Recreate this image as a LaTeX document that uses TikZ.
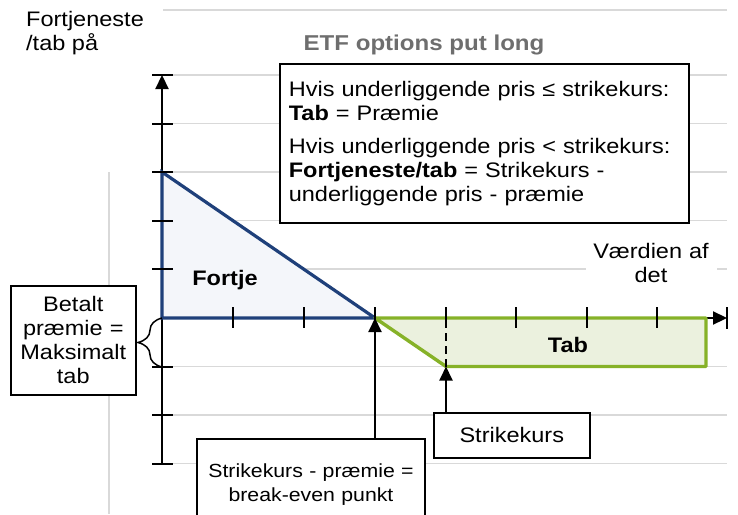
\documentclass[tikz,border=0pt]{standalone}
\usepackage{fontspec}
\setmainfont{Liberation Sans}[FakeStretch=1.12]
\usetikzlibrary{arrows.meta,decorations.pathreplacing}
\definecolor{gridc}{RGB}{217,217,217}
\definecolor{navy}{RGB}{31,64,122}
\definecolor{navyfill}{RGB}{244,246,250}
\definecolor{lgreen}{RGB}{134,178,40}
\definecolor{lgreenfill}{RGB}{235,241,222}
\definecolor{titlegray}{RGB}{110,110,110}
\tikzset{
  gridline/.style={draw=gridc,line width=1.3pt},
  axisline/.style={draw=black,line width=2.2pt},
  tickmark/.style={draw=black,line width=2pt},
  tip/.style={-{Triangle[length=14pt,width=13pt]}},
  txt/.style={font=\fontsize{21}{24}\selectfont,inner sep=0pt},
  boxed/.style={draw=black,line width=1.6pt,fill=white,font=\fontsize{21}{24}\selectfont},
  connector/.style={draw=black,line width=2pt,-{Triangle[length=14pt,width=13pt]}}
}
\begin{document}
\begin{tikzpicture}[x=1pt,y=-1pt]
\useasboundingbox (0,0) rectangle (738,514);
\clip (0,0) rectangle (738,514);
% grid
\foreach \yy in {10,75,123.5,172,220.5,269,366.5,415,463.5}
  \draw[gridline] (163,\yy) -- (727,\yy);
\draw[gridline] (109,172) -- (109,514);
% axes
\coordinate (o) at (162,318);
\coordinate (ytop) at (162,75);
\coordinate (ybot) at (162,463.5);
\coordinate (xend) at (727,318);
\draw[axisline,tip] (ybot) -- (ytop);
\draw[axisline,tip] (o) -- (xend);
% payoff areas
\coordinate (maxp) at (162,172);
\coordinate (be) at (375,318);
\coordinate (strike) at (446,366.5);
\coordinate (gend) at (706,366.5);
\coordinate (gtop) at (706,318);
\draw[draw=navy,fill=navyfill,line width=3.2pt,line join=miter] (maxp) -- (be) -- (o) -- cycle;
\draw[draw=lgreen,fill=lgreenfill,line width=3.4pt,line join=round] (be) -- (strike) -- (gend) -- (gtop) -- cycle;
% ticks
\foreach \yy in {75,123.5,172,220.5,269,366.5,415,463.5}
  \draw[tickmark] (152,\yy) -- (173,\yy);
\foreach \xx in {233,304,375,446,516,587,657}
  \draw[tickmark] (\xx,307) -- (\xx,328);
\draw[tickmark] (727,307) -- (727,329);
\draw[draw=black,line width=2pt,dash pattern=on 8pt off 5pt] (446,307) -- (strike);
% texts
\node[txt,align=left,anchor=north west] (ylab) at (26,11) {Fortjeneste\\/tab på};
\node[txt,font=\fontsize{21.5}{24}\selectfont\bfseries,text=titlegray] (title) at (424,45) {ETF options put long};
\node[txt,font=\fontsize{21}{24}\selectfont\bfseries] (fortje) at (225,280) {Fortje};
\node[txt,font=\fontsize{21}{24}\selectfont\bfseries] (tab) at (568,345) {Tab};
\node[txt,fill=white,text width=131pt,align=center,inner ysep=2pt] (vaerdi) at (651,263) {Værdien af\\det};
% info box
\node[boxed,anchor=north west,minimum width=409pt,minimum height=159pt,text width=391pt,inner xsep=9pt,align=left] (info) at (279,63)
  {Hvis underliggende pris ≤ strikekurs:\\
   \textbf{Tab} = Præmie\\[9pt]
   Hvis underliggende pris < strikekurs:\\
   \textbf{Fortjeneste/tab} = Strikekurs -\\
   underliggende pris - præmie};
% premium box and brace
\node[boxed,anchor=north west,minimum width=125pt,minimum height=109pt,text width=115pt,inner xsep=5pt,align=center] (betalt) at (10,285)
  {Betalt\\præmie =\\Maksimalt\\tab};
\coordinate (brlow) at (162,367);
\draw[draw=black,line width=1.5pt,decorate,decoration={brace,amplitude=24pt,aspect=0.5}] (brlow) -- (o);
% break-even box
\node[boxed,font=\fontsize{19}{24}\selectfont,anchor=north,minimum width=228pt,minimum height=92pt,text width=222pt,inner xsep=3pt,align=center] (bebox) at (311,438)
  {Strikekurs - præmie =\\break-even punkt};
\draw[connector] (be |- bebox.north) -- (be);
% strike box
\node[boxed,anchor=north west,minimum width=156pt,minimum height=45pt] (skbox) at (433,412) {Strikekurs};
\draw[connector] (strike |- skbox.north) -- (strike);
\end{tikzpicture}
\end{document}
